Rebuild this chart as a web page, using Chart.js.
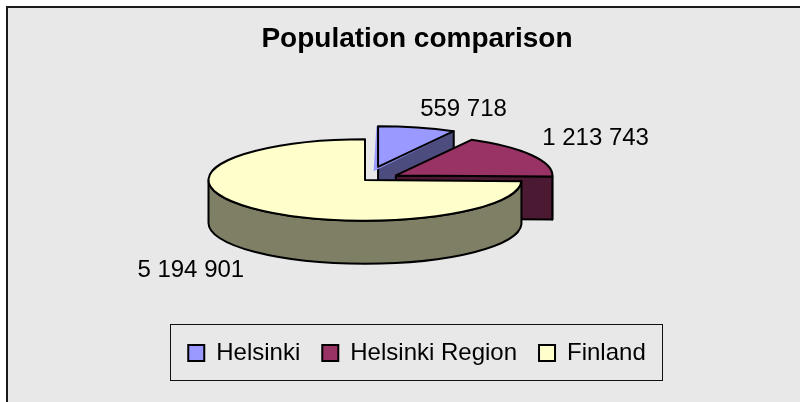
<!DOCTYPE html>
<html>
<head>
<meta charset="utf-8">
<title>Population comparison</title>
<script src="https://cdn.jsdelivr.net/npm/chart.js@4.4.1/dist/chart.umd.min.js"></script>
<style>
  body { margin: 0; background: #fff; }
  canvas { display: block; }
</style>
</head>
<body>
<canvas id="population" width="800" height="402"></canvas>
<script>
const places = ["Helsinki", "Helsinki Region", "Finland"];
const inhabitants = [559718, 1213743, 5194901];
const sliceColors = ["#9999ff", "#993366", "#ffffcc"];

// fake 3d: the pie is squashed flat and gets a rim below it
const tilt = 0.26;
const depth = 43;
const pieCenter = { x: 365, y: 180 };

function shade(hex) {
    const n = parseInt(hex.slice(1), 16);
    return "rgb(" + ((n >> 16) >> 1) + "," + (((n >> 8) & 255) >> 1) + "," + ((n & 255) >> 1) + ")";
}

function withSpaces(v) {
    return String(v).replace(/\B(?=(\d{3})+(?!\d))/g, " ");
}

// same shift that ArcElement.draw() uses for `offset`
function arcShift(arc) {
    const off = (arc.options.offset || 0) / 4;
    const fix = 1 - Math.sin(Math.min(Math.PI, arc.circumference || 0));
    const mid = (arc.startAngle + arc.endAngle) / 2;
    const d = off + off * fix;
    return { x: Math.cos(mid) * d, y: Math.sin(mid) * d };
}

function geom(arc) {
    const s = arcShift(arc);
    return {
        x: pieCenter.x + s.x,
        y: pieCenter.y + s.y * tilt,
        rx: arc.outerRadius,
        ry: arc.outerRadius * tilt,
    };
}

const pie3d = {
    id: "pie3d",
    beforeDraw(chart) {
        const { ctx, width, height } = chart;
        ctx.save();
        ctx.fillStyle = "#fff";
        ctx.fillRect(0, 0, width, height);
        ctx.fillStyle = "#e8e8e8";
        ctx.fillRect(8, 8, width, height);
        ctx.fillStyle = "#1a1a1a";
        ctx.fillRect(6, 6, width, 2);
        ctx.fillRect(6, 6, 2, height);
        ctx.restore();
    },
    beforeDatasetsDraw(chart) {
        const ctx = chart.ctx;
        const arcs = chart.getDatasetMeta(0).data;
        ctx.save();
        ctx.strokeStyle = "#000";
        ctx.lineWidth = 2;
        ctx.lineJoin = "round";
        arcs.forEach((arc, i) => {
            const g = geom(arc);
            const a0 = arc.startAngle, a1 = arc.endAngle;
            ctx.fillStyle = shade(sliceColors[i]);
            // outer wall, only the half facing us
            const lo = Math.max(a0, 0), hi = Math.min(a1, Math.PI);
            if (hi > lo) {
                ctx.beginPath();
                ctx.ellipse(g.x, g.y, g.rx, g.ry, 0, lo, hi);
                ctx.ellipse(g.x, g.y + depth, g.rx, g.ry, 0, hi, lo, true);
                ctx.closePath();
                ctx.fill();
                ctx.stroke();
            }
            // cut faces of the slice
            [[a0, Math.cos(a0) < -1e-6], [a1, Math.cos(a1) > 1e-6]].forEach(([a, show]) => {
                if (!show) return;
                const px = g.x + g.rx * Math.cos(a), py = g.y + g.ry * Math.sin(a);
                ctx.beginPath();
                ctx.moveTo(g.x, g.y);
                ctx.lineTo(px, py);
                ctx.lineTo(px, py + depth);
                ctx.lineTo(g.x, g.y + depth);
                ctx.closePath();
                ctx.fill();
                ctx.stroke();
            });
        });
        ctx.restore();

        // the library draws the tops, squashed
        const a = arcs[0];
        ctx.save();
        ctx.translate(pieCenter.x, pieCenter.y);
        ctx.scale(1, tilt);
        ctx.translate(-a.x, -a.y);
    },
    afterDatasetsDraw(chart) {
        const ctx = chart.ctx;
        ctx.restore();
        const arcs = chart.getDatasetMeta(0).data;
        const values = chart.data.datasets[0].data;
        ctx.save();
        ctx.strokeStyle = "#000";
        ctx.lineWidth = 2;
        ctx.lineJoin = "round";
        arcs.forEach((arc) => {
            const g = geom(arc);
            ctx.beginPath();
            ctx.moveTo(g.x, g.y);
            ctx.ellipse(g.x, g.y, g.rx, g.ry, 0, arc.startAngle, arc.endAngle);
            ctx.closePath();
            ctx.stroke();
        });

        ctx.font = "24px 'Liberation Sans', Arial, sans-serif";
        ctx.fillStyle = "#000";
        ctx.textBaseline = "middle";
        arcs.forEach((arc, i) => {
            const g = geom(arc);
            const mid = (arc.startAngle + arc.endAngle) / 2;
            const c = Math.cos(mid), s = Math.sin(mid);
            const x = g.x + (g.rx + 12) * c;
            let y = g.y + (g.rx + 12) * tilt * s;
            y += s > 0 ? depth + 17 : -15;
            ctx.textAlign = c >= 0 ? "left" : "right";
            ctx.fillText(withSpaces(values[i]), x, y);
        });
        ctx.restore();
    },
    afterDraw(chart) {
        const boxes = chart.legend.legendHitBoxes;
        if (!boxes || !boxes.length) return;
        const first = boxes[0], last = boxes[boxes.length - 1];
        const ctx = chart.ctx;
        const left = Math.round(first.left - 18) + 0.5;
        const right = Math.round(last.left + last.width + 16) + 0.5;
        const top = Math.round(first.top - 17) + 0.5;
        const bottom = Math.round(first.top + 39) + 0.5;
        ctx.save();
        ctx.strokeStyle = "#111";
        ctx.lineWidth = 1;
        ctx.strokeRect(left, top, right - left, bottom - top);
        ctx.restore();
    },
};

Chart.defaults.font.family = "'Liberation Sans', Arial, sans-serif";
Chart.defaults.color = "#000";

const ctx = document.getElementById("population").getContext("2d");
new Chart(ctx, {
    type: "pie",
    data: {
        labels: places,
        datasets: [
            {
                data: inhabitants,
                backgroundColor: sliceColors,
                borderWidth: 0,
                offset: [138, 128, 0],
                hoverOffset: 0,
                radius: 156.5,
                clip: false,
            },
        ],
    },
    options: {
        responsive: false,
        animation: false,
        events: [],
        layout: {
            padding: { left: 34, right: 0, top: 0, bottom: 27 },
        },
        plugins: {
            title: {
                display: true,
                text: "Population comparison",
                font: { size: 28, weight: "bold" },
                color: "#000",
                padding: { top: 22, bottom: 10 },
            },
            legend: {
                position: "bottom",
                labels: {
                    boxWidth: 16,
                    boxHeight: 16,
                    padding: 22,
                    color: "#000",
                    font: { size: 24 },
                    generateLabels(chart) {
                        const items = Chart.overrides.pie.plugins.legend.labels.generateLabels(chart);
                        return items.map((it) => ({ ...it, strokeStyle: "#000", lineWidth: 2 }));
                    },
                },
            },
            tooltip: { enabled: false },
        },
    },
    plugins: [pie3d],
});
</script>
</body>
</html>
